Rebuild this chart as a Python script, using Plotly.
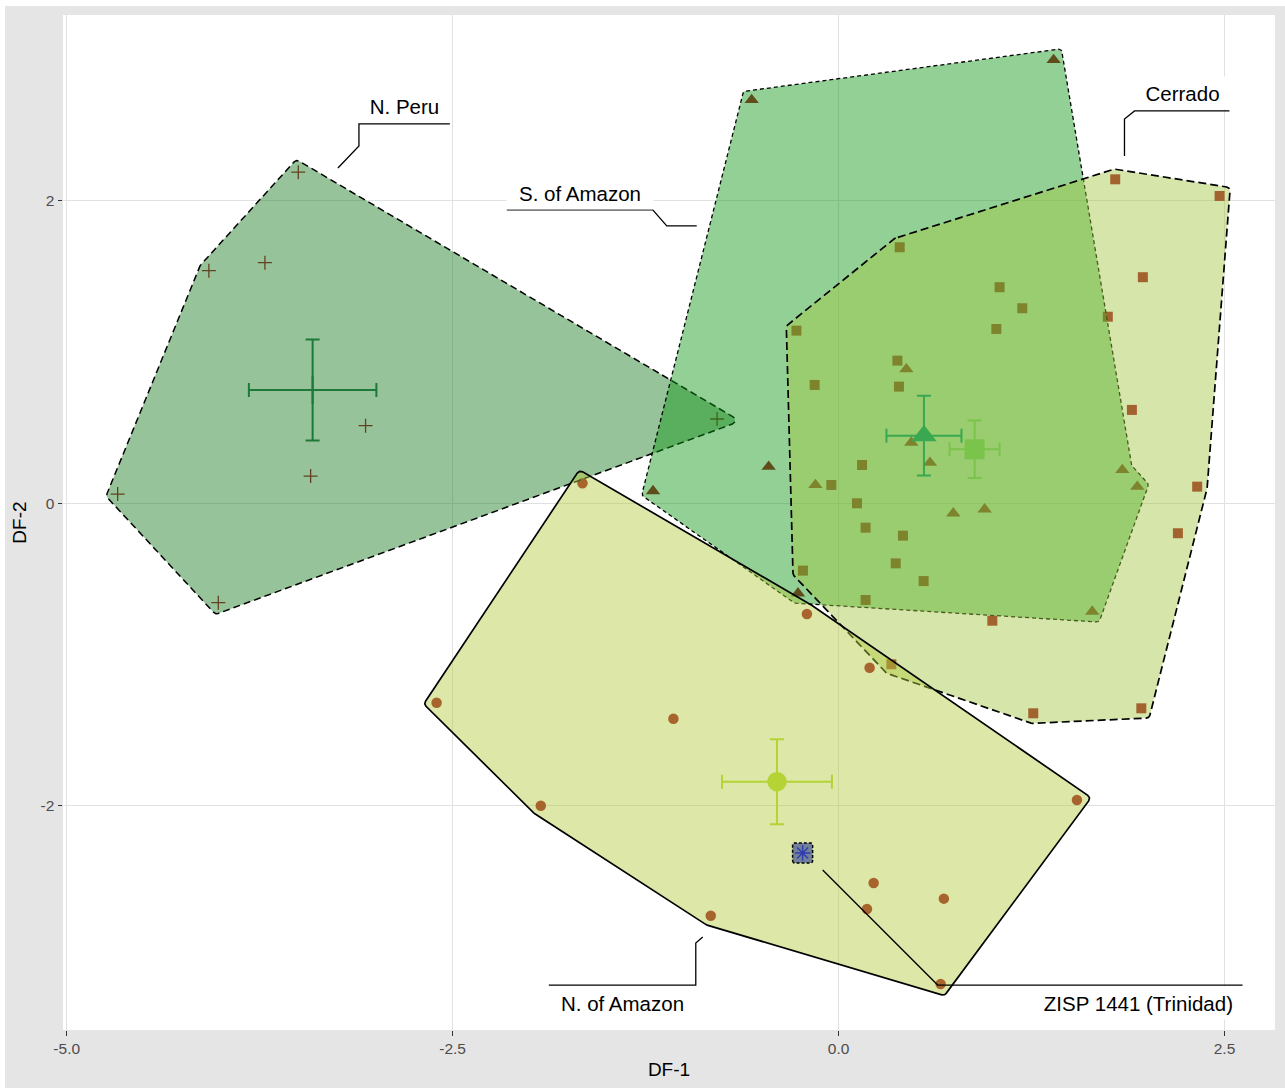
import numpy as np
import plotly.graph_objects as go

# ---------------- data ----------------
groups = ["N. Peru", "S. of Amazon", "Cerrado", "N. of Amazon"]

npe_x = [-3.500, -4.079, -3.716, -3.064, -3.420, -4.670, -4.018, -0.787]
npe_y = [2.188, 1.537, 1.590, 0.513, 0.180, 0.061, -0.657, 0.557]

sam_x = [-0.563, 1.393, -0.453, -1.202, -0.150, 1.643, -0.263, 1.838, 1.935,
         0.743, 0.946, 0.439, 0.471, 0.592]
sam_y = [2.666, 2.930, 0.242, 0.081, 0.121, -0.716, -0.595, 0.220, 0.110,
         -0.066, -0.040, 0.886, 0.401, 0.268]

cer_x = [1.792, 2.468, 1.971, 1.744, 0.396, 1.043, 1.190, 1.022, 0.381, 0.391,
         0.152, 0.119, 0.175, 0.417, 0.370, 0.551, 0.175, 0.996, 2.198, 2.323,
         1.900, 1.961, 1.261, 0.342, -0.273, -0.155, -0.047, -0.231]
cer_y = [2.141, 2.031, 1.494, 1.233, 1.692, 1.428, 1.289, 1.152, 0.943, 0.771,
         0.253, 0.000, -0.161, -0.214, -0.397, -0.514, -0.639, -0.776, -0.198, 0.110,
         0.617, -1.355, -1.388, -1.064, 1.141, 0.782, 0.121, -0.445]

nam_x = [-1.659, -2.604, -1.070, -1.929, -0.828, -0.205, 0.201, 1.544, 0.227,
         0.184, 0.682, 0.661]
nam_y = [0.132, -1.318, -1.424, -1.999, -2.726, -0.732, -1.087, -1.961, -2.510,
         -2.681, -2.613, -3.177]

# hull membership (indices of the points on each group's hull, in order)
npe_hull = [0, 7, 6, 5, 1]
sam_hull = [0, 1, 7, 8, 5, 6, 3]
cer_hull = [0, 1, 19, 21, 22, 23, 27, 24, 4]
nam_hull = [0, 5, 7, 11, 4, 3, 1]

# group means and their error half-widths
mean_x = [-3.407, 0.553, 0.881, -0.399]
mean_y = [0.749, 0.447, 0.357, -1.840]
err_x = [0.413, 0.243, 0.162, 0.356]
err_y = [0.334, 0.264, 0.190, 0.281]

# specimen ZISP 1441
zisp_x = [-0.233]
zisp_y = [-2.311]

x_ticks = [-5.0, -2.5, 0.0, 2.5]
x_ticklabels = ["-5.0", "-2.5", "0.0", "2.5"]
y_ticks = [-2, 0, 2]
y_ticklabels = ["-2", "0", "2"]

# ---------------- layout / styling ----------------
W, H = 1285, 1088
ML, MR, MT, MB = 63, 10, 15, 58
XR = [-5.024, 2.827]
YR = [-3.481, 3.227]
PW, PH = W - ML - MR, H - MT - MB
SX = PW / (XR[1] - XR[0])  # px per unit
SY = PH / (YR[1] - YR[0])

FONT = "Liberation Sans, Arial, Helvetica, sans-serif"
pt_color = "rgb(160,18,32)"
fill_cols = ["rgba(24,122,30,0.45)", "rgba(15,151,22,0.45)",
             "rgba(164,199,66,0.45)", "rgba(177,202,62,0.45)"]
mean_cols = ["#1E7837", "#3AA850", "#7AC44C", "#B5D334"]
line_dash = ["7px,4px", "4px,3px", "8px,4px", "solid"]
line_w = [1.5, 1.3, 1.7, 1.7]
pt_symbols = ["cross-thin-open", "triangle-up", "square", "circle"]
pt_sizes = [10, 12.5, 10, 10.5]
mean_sizes = [20, 22, 20, 19.5]


def rounded_hull(xs, ys, expand_px, radius_px, narc=10):
    P = np.column_stack([np.asarray(xs, float) * SX, np.asarray(ys, float) * SY])
    area = 0.5 * np.sum(P[:, 0] * np.roll(P[:, 1], -1) - np.roll(P[:, 0], -1) * P[:, 1])
    if area < 0:
        P = P[::-1]
    n = len(P)
    E = P[(np.arange(n) + 1) % n] - P
    T = E / np.linalg.norm(E, axis=1, keepdims=True)
    N = np.column_stack([T[:, 1], -T[:, 0]])
    d1 = expand_px - radius_px
    out = []
    for i in range(n):
        n0, n1 = N[i - 1], N[i]
        m = (n0 + n1) / (1 + n0 @ n1)
        q = P[i] + d1 * m
        cr = T[i - 1][0] * T[i][1] - T[i - 1][1] * T[i][0]
        if cr > 1e-12:
            a0 = np.arctan2(n0[1], n0[0])
            a1 = np.arctan2(n1[1], n1[0])
            if a1 < a0:
                a1 += 2 * np.pi
            for t in np.linspace(a0, a1, narc):
                out.append(q + radius_px * np.array([np.cos(t), np.sin(t)]))
        else:
            out.append(q + radius_px * m)
    out.append(out[0])
    out = np.array(out)
    return out[:, 0] / SX, out[:, 1] / SY


fig = go.Figure()

pts = [(npe_x, npe_y), (sam_x, sam_y), (cer_x, cer_y), (nam_x, nam_y)]
hulls = [npe_hull, sam_hull, cer_hull, nam_hull]

# points (drawn below the translucent hulls)
for g, (xs, ys) in enumerate(pts):
    if pt_symbols[g].endswith("open"):
        mk = dict(symbol=pt_symbols[g], size=pt_sizes[g], color=pt_color,
                  line=dict(color=pt_color, width=1.3))
    else:
        mk = dict(symbol=pt_symbols[g], size=pt_sizes[g], color=pt_color,
                  line=dict(width=0))
    fig.add_trace(go.Scatter(x=xs, y=ys, mode="markers", marker=mk,
                             hoverinfo="skip", showlegend=False))

# hulls
for g, (xs, ys) in enumerate(pts):
    hx = [xs[i] for i in hulls[g]]
    hy = [ys[i] for i in hulls[g]]
    px_, py_ = rounded_hull(hx, hy, 10, 4)
    fig.add_trace(go.Scatter(x=px_, y=py_, mode="lines", fill="toself",
                             fillcolor=fill_cols[g],
                             line=dict(color="black", width=line_w[g], dash=line_dash[g]),
                             hoverinfo="skip", showlegend=False))

# ZISP 1441 box and asterisk
e = 1e-6
bx, by = rounded_hull([zisp_x[0] - e, zisp_x[0] + e, zisp_x[0] + e, zisp_x[0] - e],
                      [zisp_y[0] - e, zisp_y[0] - e, zisp_y[0] + e, zisp_y[0] + e], 10, 2)
fig.add_trace(go.Scatter(x=bx, y=by, mode="lines", fill="toself",
                         fillcolor="rgba(25,45,140,0.55)",
                         line=dict(color="black", width=1.5, dash="3px,2px"),
                         hoverinfo="skip", showlegend=False))
fig.add_trace(go.Scatter(x=zisp_x, y=zisp_y, mode="markers",
                         marker=dict(symbol="asterisk-open", size=13, color="rgb(50,60,175)",
                                     line=dict(color="rgb(50,60,175)", width=1.5)),
                         hoverinfo="skip", showlegend=False))

# group means with error bars
for g in range(4):
    if pt_symbols[g].endswith("open"):
        mk = dict(symbol=pt_symbols[g], size=mean_sizes[g], color=mean_cols[g],
                  line=dict(color=mean_cols[g], width=2))
    else:
        mk = dict(symbol=pt_symbols[g], size=mean_sizes[g], color=mean_cols[g],
                  line=dict(width=0))
    fig.add_trace(go.Scatter(
        x=[mean_x[g]], y=[mean_y[g]], mode="markers", marker=mk,
        error_x=dict(type="data", array=[err_x[g]], color=mean_cols[g], thickness=2, width=7),
        error_y=dict(type="data", array=[err_y[g]], color=mean_cols[g], thickness=2, width=7),
        hoverinfo="skip", showlegend=False))

# labels with leader lines (layout positions in data units)
labels = [
    dict(text="N. Peru", x=-2.811, y=2.623, w=91, align="center",
         lx=[-2.518, -3.107, -3.107, -3.243], ly=[2.507, 2.507, 2.362, 2.216]),
    dict(text="S. of Amazon", x=-1.677, y=2.051, w=146, align="center",
         lx=[-2.149, -1.204, -1.113, -0.919], ly=[1.939, 1.939, 1.833, 1.833]),
    dict(text="Cerrado", x=2.225, y=2.712, w=95, align="center",
         lx=[2.532, 1.917, 1.852, 1.852], ly=[2.593, 2.593, 2.540, 2.295]),
    dict(text="N. of Amazon", x=-1.401, y=-3.303, w=147, align="center",
         lx=[-1.877, -0.925, -0.925, -0.880], ly=[-3.184, -3.184, -2.906, -2.866]),
    dict(text="ZISP 1441 (Trinidad)", x=1.905, y=-3.303, w=200, align="right",
         lx=[-0.103, 0.642, 2.617], ly=[-2.424, -3.184, -3.184]),
]
for lb in labels:
    fig.add_trace(go.Scatter(x=lb["lx"], y=lb["ly"], mode="lines",
                             line=dict(color="black", width=1.3),
                             hoverinfo="skip", showlegend=False))
    fig.add_annotation(x=lb["x"], y=lb["y"], xref="x", yref="y", text=lb["text"],
                       showarrow=False, xanchor="center", yanchor="middle",
                       width=lb["w"], height=32, align=lb["align"],
                       bgcolor="white", borderpad=0,
                       font=dict(family=FONT, size=20.5, color="black"))

# background: grey plot background with thin white outer edge, white panel
fig.add_shape(type="rect", xref="paper", yref="paper", layer="below",
              x0=(5 - ML) / PW, x1=(W - ML + 5) / PW,
              y0=-(MB + 5) / PH, y1=(PH + MT - 6) / PH,
              fillcolor="#E5E5E5", line=dict(width=0))
fig.add_shape(type="rect", xref="paper", yref="paper", layer="below",
              x0=0, x1=1, y0=0, y1=1, fillcolor="white", line=dict(width=0))

axis_common = dict(showgrid=True, gridcolor="#E1E1E1", gridwidth=1.3, zeroline=False,
                   showline=False, ticks="outside", ticklen=4.5, tickwidth=1.1,
                   tickcolor="#333333",
                   tickfont=dict(family=FONT, size=15.5, color="#4D4D4D"))
fig.update_xaxes(range=XR, tickvals=x_ticks, ticktext=x_ticklabels,
                 title=dict(text="DF-1", font=dict(family=FONT, size=19, color="black"),
                            standoff=6), **axis_common)
fig.update_yaxes(range=YR, tickvals=y_ticks, ticktext=y_ticklabels,
                 title=dict(text="DF-2", font=dict(family=FONT, size=19, color="black"),
                            standoff=8), **axis_common)

fig.update_layout(width=W, height=H, margin=dict(l=ML, r=MR, t=MT, b=MB, autoexpand=False),
                  paper_bgcolor="white", plot_bgcolor="white", showlegend=False,
                  font=dict(family=FONT))

fig.write_html("out.html", config={"displayModeBar": False},
               post_script="document.body.style.margin='0px';document.body.style.overflow='hidden';")
